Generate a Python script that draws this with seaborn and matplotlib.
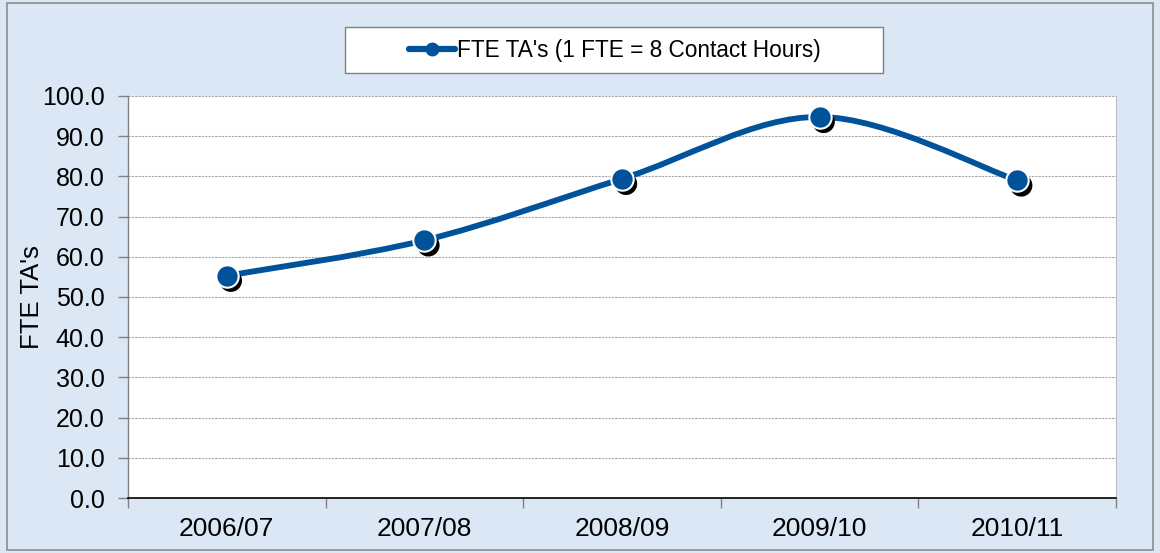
import numpy as np
import pandas as pd
import matplotlib
matplotlib.use("Agg")
import matplotlib.pyplot as plt
import matplotlib.transforms as mtransforms
from matplotlib.path import Path
from matplotlib.patches import PathPatch, Rectangle
from matplotlib.lines import Line2D
import seaborn as sns

years = ["2006/07", "2007/08", "2008/09", "2009/10", "2010/11"]
fte_tas = [55.3, 64.1, 79.4, 94.8, 79.0]
series_name = "FTE TA's (1 FTE = 8 Contact Hours)"
y_label = "FTE TA's"

line_color = "#00529B"
bg_color = "#dbe7f4"

sns.set_theme(style="white")
plt.rcParams["font.family"] = ["Liberation Sans", "DejaVu Sans"]
plt.rcParams["text.color"] = "black"
plt.rcParams["axes.labelcolor"] = "black"
plt.rcParams["xtick.labelcolor"] = "black"
plt.rcParams["ytick.labelcolor"] = "black"

df = pd.DataFrame({"year": years, "fte": fte_tas})
df["pos"] = np.arange(len(df))

fig = plt.figure(figsize=(11.6, 5.53), dpi=100)
fig.patch.set_facecolor(bg_color)
ax = fig.add_axes([128 / 1160, 1 - 498 / 553, (1116 - 128) / 1160, (498 - 96) / 553])
ax.set_facecolor("white")

# smoothed line (bezier through the points, like excel's smoothed line)
xs = df["pos"].to_numpy(float)
ys = df["fte"].to_numpy(float)
verts = [(xs[0], ys[0])]
codes = [Path.MOVETO]
n = len(xs)
for i in range(n - 1):
    p0 = np.array([xs[max(i - 1, 0)], ys[max(i - 1, 0)]])
    p1 = np.array([xs[i], ys[i]])
    p2 = np.array([xs[i + 1], ys[i + 1]])
    p3 = np.array([xs[min(i + 2, n - 1)], ys[min(i + 2, n - 1)]])
    c1 = p1 + (p2 - p0) / 6
    c2 = p2 - (p3 - p1) / 6
    verts += [tuple(c1), tuple(c2), tuple(p2)]
    codes += [Path.CURVE4] * 3
ax.add_patch(PathPatch(Path(verts, codes), facecolor="none", edgecolor=line_color,
                       lw=4.2, capstyle="round", joinstyle="round", zorder=3))

# marker shadow
shadow = mtransforms.offset_copy(ax.transData, fig=fig, x=4, y=-5, units="dots")
ax.scatter(xs, ys, s=260, color="black", edgecolor="none", transform=shadow, zorder=4)
sns.scatterplot(data=df, x="pos", y="fte", ax=ax, s=260, color=line_color,
                edgecolor="white", linewidth=1.5, zorder=5, legend=False)

ax.set_xlim(-0.5, len(years) - 0.5)
ax.set_ylim(0, 100)
ax.set_yticks(np.arange(0, 101, 10))
ax.set_yticklabels([f"{v:.1f}" for v in np.arange(0, 101, 10)], fontsize=18)
ax.set_xticks(df["pos"])
ax.set_xticklabels(years, fontsize=19)
ax.set_xticks(np.arange(-0.5, len(years)), minor=True)
ax.tick_params(axis="x", which="major", length=0, pad=14)
ax.tick_params(axis="x", which="minor", length=7, width=1, color="#808080", direction="out", bottom=True)
ax.tick_params(axis="y", length=7, width=1, color="#808080", direction="out", left=True, pad=10)
ax.set_xlabel("")
ax.set_ylabel(y_label, fontsize=18.5)
ax.yaxis.set_label_coords((44 - 128) / 988, 0.5)
ax.grid(axis="y", color="#a6a6a6", lw=0.8, ls=(0, (2, 1)))
ax.grid(axis="x", visible=False)
ax.set_axisbelow(True)

ax.spines["top"].set_visible(False)
ax.spines["left"].set_color("#808080")
ax.spines["left"].set_linewidth(1)
ax.spines["bottom"].set_color("black")
ax.spines["bottom"].set_linewidth(1.2)
ax.spines["right"].set_color("#c0c0c0")
ax.spines["right"].set_linewidth(0.8)

# legend box fixed to the reference size
fig.patches.append(Rectangle((345 / 1160, 1 - 73 / 553), 538 / 1160, 46 / 553,
                             transform=fig.transFigure, facecolor="white",
                             edgecolor="#808080", lw=1, zorder=1))
handle = Line2D([], [], color=line_color, lw=4.5, marker="o", markersize=9,
                markeredgecolor=line_color)
leg = fig.legend([handle], [series_name], loc="center", bbox_to_anchor=(615 / 1160, 1 - 50 / 553),
                 fontsize=16.3, frameon=False, handlelength=2.0, handletextpad=0.1)
leg.set_zorder(2)

fig.patches.append(Rectangle((7 / 1160, 3 / 553), 1146 / 1160, 547 / 553,
                             transform=fig.transFigure, facecolor="none",
                             edgecolor="#8c8c8c", lw=1.2))

fig.savefig("out.png", dpi=100, facecolor=fig.get_facecolor())
